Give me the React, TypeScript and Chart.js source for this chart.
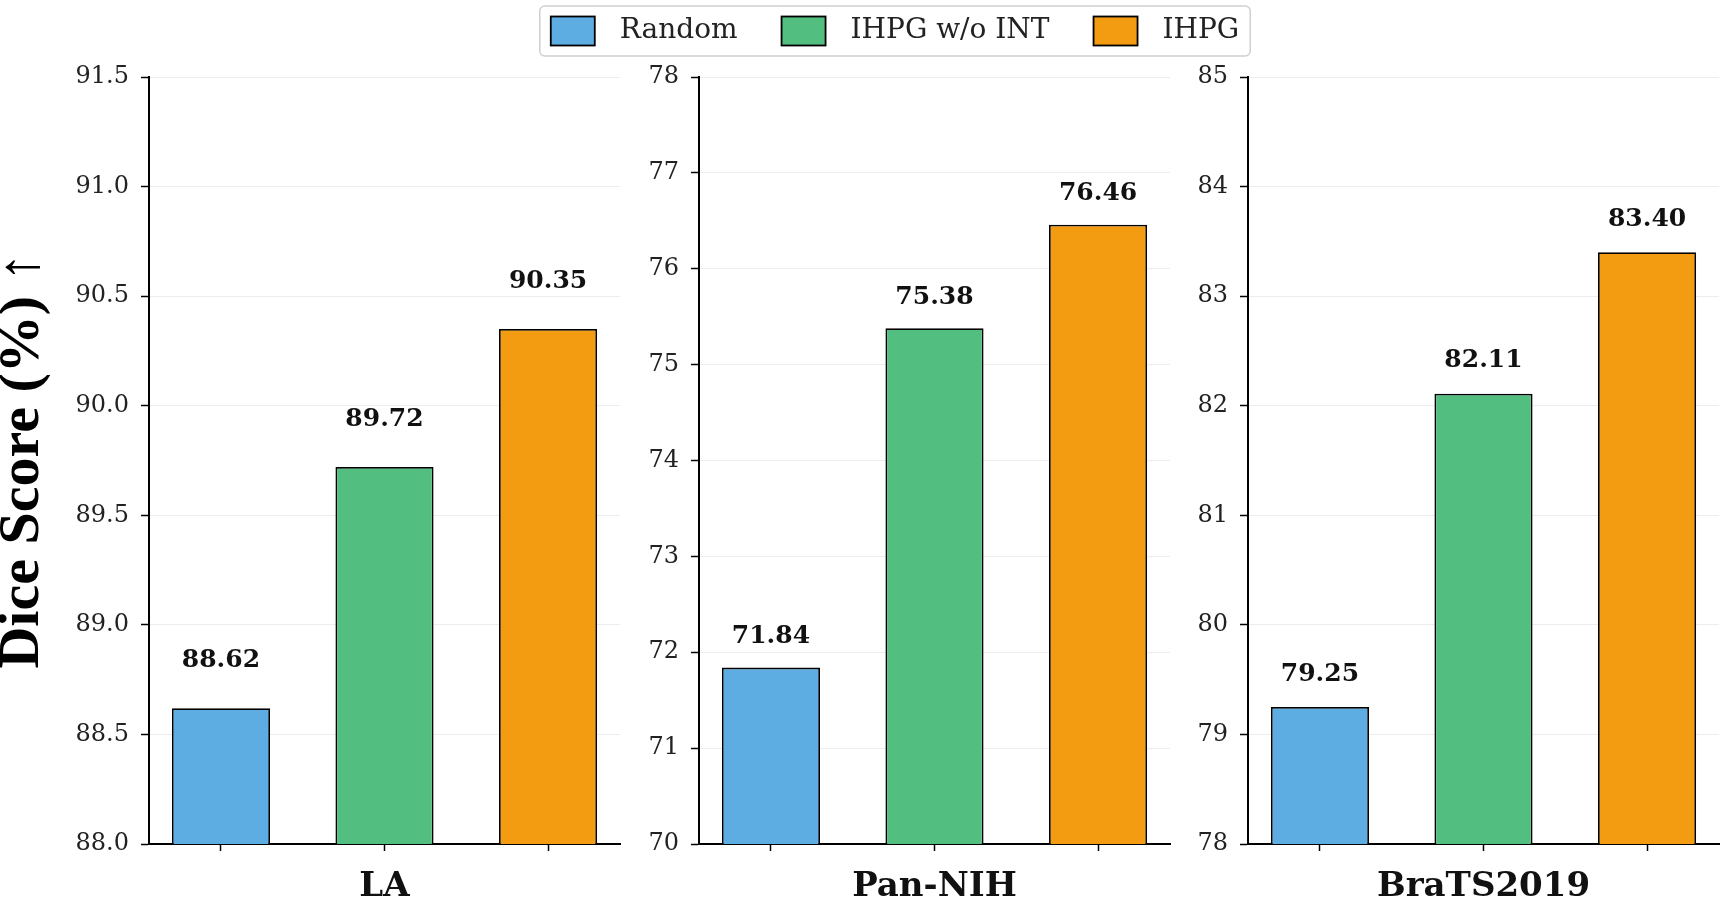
import React, { useEffect, useRef } from "react";
import { Chart, registerables } from "chart.js";

Chart.register(...registerables);

// Methods compared in every panel (legend entries and bar colours)
const methods = ["Random", "IHPG w/o INT", "IHPG"];
const methodColors = ["#5DADE2", "#52BE80", "#F39C12"];

// Dataset names shown under each panel
const datasetNames = ["LA", "Pan-NIH", "BraTS2019"];

// Dice scores (%) per dataset, in method order
const laScores = [88.62, 89.72, 90.35];
const panNihScores = [71.84, 75.38, 76.46];
const bratsScores = [79.25, 82.11, 83.4];

// Y-axis tick values per panel
const laTicks = [88.0, 88.5, 89.0, 89.5, 90.0, 90.5, 91.0, 91.5];
const panNihTicks = [70, 71, 72, 73, 74, 75, 76, 77, 78];
const bratsTicks = [78, 79, 80, 81, 82, 83, 84, 85];

const yTitle = "Dice Score (%) ↑";

const W = 1733;
const H = 908;
const SERIF = "'DejaVu Serif', serif";

type Panel = {
  name: string;
  scores: number[];
  ticks: number[];
  decimals: number;
  plotLeft: number;
  plotRight: number;
  axisWidth: number;
  labelGap: number;
  showYTitle: boolean;
  showLegend: boolean;
};

const panels: Panel[] = [
  { name: datasetNames[0], scores: laScores, ticks: laTicks, decimals: 1, plotLeft: 149, plotRight: 620, axisWidth: 149, labelGap: 48, showYTitle: true, showLegend: false },
  { name: datasetNames[1], scores: panNihScores, ticks: panNihTicks, decimals: 0, plotLeft: 699, plotRight: 1170, axisWidth: 80, labelGap: 31, showYTitle: false, showLegend: true },
  { name: datasetNames[2], scores: bratsScores, ticks: bratsTicks, decimals: 0, plotLeft: 1248, plotRight: 1719, axisWidth: 80, labelGap: 33, showYTitle: false, showLegend: false },
];

// Bold value printed above each bar
const valueLabels = {
  id: "valueLabels",
  afterDatasetsDraw(chart: any, _args: any, opts: any) {
    const ctx = chart.ctx;
    const meta = chart.getDatasetMeta(0);
    const values = chart.data.datasets[0].data;
    ctx.save();
    ctx.font = `bold 25px ${SERIF}`;
    ctx.fillStyle = "#111";
    ctx.textAlign = "center";
    ctx.textBaseline = "middle";
    meta.data.forEach((bar: any, i: number) => {
      ctx.fillText(values[i].y.toFixed(2), bar.x, bar.y - opts.gap);
    });
    ctx.restore();
  },
};

// Shared legend for the three panels, framed like a matplotlib legend
const methodLegend = {
  id: "methodLegend",
  afterDraw(chart: any, _args: any, opts: any) {
    if (!opts.show) return;
    const ctx = chart.ctx;
    ctx.save();
    ctx.font = `28px ${SERIF}`;
    const sw = 44, sh = 29, textGap = 25, itemGap = 44, padX = 11;
    const widths = methods.map((m) => ctx.measureText(m).width);
    const inner =
      widths.reduce((a, w) => a + sw + textGap + w, 0) + itemGap * (methods.length - 1);
    const boxW = inner + padX * 2;
    const boxH = 50;
    const left = opts.centerX - boxW / 2;
    const top = 6;
    ctx.beginPath();
    ctx.roundRect(left, top, boxW, boxH, 5);
    ctx.fillStyle = "rgba(255,255,255,0.9)";
    ctx.fill();
    ctx.strokeStyle = "#d0d0d0";
    ctx.lineWidth = 1.5;
    ctx.stroke();
    const cy = top + boxH / 2;
    let x = left + padX;
    methods.forEach((m, i) => {
      ctx.fillStyle = methodColors[i];
      ctx.fillRect(x, cy - sh / 2, sw, sh);
      ctx.strokeStyle = "#000";
      ctx.lineWidth = 1.8;
      ctx.strokeRect(x, cy - sh / 2, sw, sh);
      ctx.fillStyle = "#222";
      ctx.textAlign = "left";
      ctx.textBaseline = "middle";
      ctx.fillText(m, x + sw + textGap, cy);
      x += sw + textGap + widths[i] + itemGap;
    });
    ctx.restore();
  },
};

function PanelChart({ panel }: { panel: Panel }) {
  const ref = useRef<HTMLCanvasElement | null>(null);

  useEffect(() => {
    if (!ref.current) return;
    const chart = new Chart(ref.current, {
      type: "bar",
      data: {
        datasets: [
          {
            data: panel.scores.map((y, i) => ({ x: i, y })),
            backgroundColor: methodColors,
            borderColor: "#000",
            borderWidth: 1.8,
            borderSkipped: false,
            barPercentage: 0.6,
            categoryPercentage: 1,
          },
        ],
      },
      options: {
        responsive: false,
        animation: false,
        devicePixelRatio: 1,
        layout: {
          padding: {
            left: panel.plotLeft - panel.axisWidth,
            right: W - panel.plotRight,
            top: 77,
            bottom: 0,
          },
        },
        plugins: {
          legend: { display: false },
          tooltip: { enabled: false },
          valueLabels: { gap: panel.labelGap },
          methodLegend: { show: panel.showLegend, centerX: 895 },
        } as any,
        scales: {
          x: {
            type: "linear",
            offset: false,
            min: -0.44,
            max: 2.44,
            afterBuildTicks: (s: any) => {
              s.ticks = methods.map((_, i) => ({ value: i }));
            },
            ticks: { display: false },
            grid: {
              offset: false,
              drawOnChartArea: false,
              drawTicks: true,
              tickLength: 7,
              tickColor: "#000",
              tickWidth: 1.5,
            },
            border: { display: true, color: "#000", width: 2 },
            title: {
              display: true,
              text: panel.name,
              color: "#111",
              font: { family: SERIF, size: 34, weight: "bold" },
              padding: { top: 0, bottom: 0 },
            },
            afterFit: (s: any) => {
              s.height = 64;
            },
          },
          y: {
            type: "linear",
            min: panel.ticks[0],
            max: panel.ticks[panel.ticks.length - 1],
            afterBuildTicks: (s: any) => {
              s.ticks = panel.ticks.map((v) => ({ value: v }));
            },
            ticks: {
              callback: (v: any) => Number(v).toFixed(panel.decimals),
              color: "#222",
              font: { family: SERIF, size: 24 },
              padding: 12,
            },
            grid: {
              color: "rgba(0,0,0,0.07)",
              lineWidth: 1,
              tickLength: 8,
              tickColor: "#000",
              tickWidth: 1.5,
            },
            border: { display: true, color: "#000", width: 2 },
            title: {
              display: panel.showYTitle,
              text: yTitle,
              color: "#000",
              font: { family: "'Liberation Serif', 'Times New Roman', serif", size: 58, weight: "bold", lineHeight: 0.78 },
              padding: 0,
            },
            afterFit: (s: any) => {
              s.width = panel.axisWidth;
            },
          },
        } as any,
      },
      plugins: [valueLabels, methodLegend],
    });
    return () => chart.destroy();
  }, [panel]);

  return (
    <canvas
      ref={ref}
      width={W}
      height={H}
      style={{ position: "absolute", left: 0, top: 0, width: W, height: H }}
    />
  );
}

export default function App() {
  return (
    <div
      style={{
        position: "fixed",
        left: 0,
        top: 0,
        width: W,
        height: H,
        background: "#fff",
        overflow: "hidden",
      }}
    >
      {panels.map((p) => (
        <PanelChart key={p.name} panel={p} />
      ))}
    </div>
  );
}
